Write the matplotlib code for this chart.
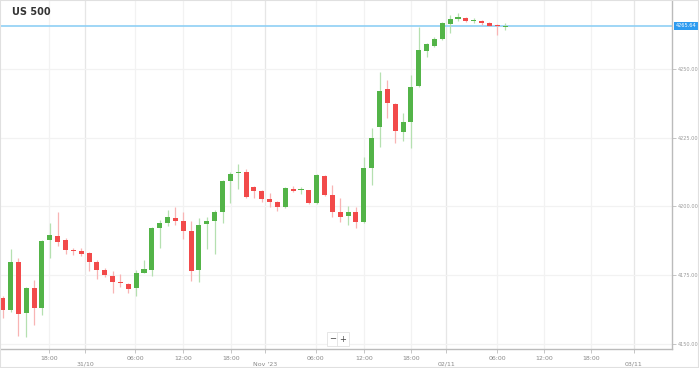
import numpy as np
import matplotlib
matplotlib.use("Agg")
import matplotlib.pyplot as plt

# hourly candles, US 500
opens = [4166.84, 4162.36, 4179.93, 4161.27, 4170.36, 4163.09, 4187.82, 4189.38, 4187.82, 4184.18,
         4183.93, 4182.98, 4179.93, 4176.91, 4174.84, 4172.44, 4171.71, 4170.25, 4175.93, 4176.91,
         4192.07, 4194.11, 4195.93, 4194.73, 4191.20, 4176.91, 4193.53, 4194.73, 4197.89, 4209.27,
         4212.07, 4212.44, 4206.98, 4205.75, 4202.73, 4201.53, 4199.93, 4206.36, 4206.00, 4206.00,
         4201.16, 4211.27, 4204.18, 4198.00, 4196.55, 4197.89, 4194.47, 4214.11, 4229.02, 4242.62,
         4237.27, 4227.20, 4230.84, 4243.82, 4256.65, 4258.47, 4260.91, 4266.36, 4268.07, 4268.65,
         4267.45, 4267.56, 4266.62, 4265.71, 4265.45]
highs = [4167.45, 4184.55, 4181.27, 4170.84, 4173.27, 4187.82, 4194.11, 4197.89, 4188.55, 4185.02,
         4185.02, 4183.45, 4180.55, 4177.53, 4176.55, 4175.45, 4172.18, 4176.91, 4180.55, 4192.55,
         4195.09, 4198.73, 4199.71, 4198.00, 4194.84, 4195.71, 4196.07, 4198.73, 4209.64, 4212.55,
         4215.45, 4213.64, 4207.45, 4206.18, 4204.80, 4202.00, 4207.09, 4207.45, 4207.20, 4206.18,
         4211.64, 4211.45, 4207.82, 4203.27, 4200.18, 4199.93, 4217.89, 4228.44, 4248.80, 4246.00,
         4237.64, 4234.11, 4247.82, 4265.38, 4259.45, 4261.75, 4266.98, 4269.64, 4270.25, 4268.73,
         4268.44, 4267.64, 4266.98, 4266.36, 4266.84]
lows = [4159.45, 4161.64, 4152.91, 4152.55, 4156.91, 4160.55, 4181.27, 4185.64, 4182.73, 4182.36,
        4182.00, 4176.65, 4173.64, 4174.36, 4168.65, 4170.62, 4168.55, 4167.45, 4175.82, 4174.73,
        4184.91, 4192.91, 4193.27, 4188.18, 4173.02, 4172.65, 4184.44, 4182.62, 4193.89, 4201.16,
        4206.36, 4203.09, 4202.98, 4201.75, 4199.93, 4198.36, 4199.35, 4205.45, 4204.55, 4200.91,
        4200.91, 4203.82, 4196.07, 4194.47, 4193.27, 4192.07, 4194.18, 4207.82, 4221.53, 4232.07,
        4222.98, 4223.82, 4221.16, 4243.45, 4254.47, 4258.18, 4260.55, 4263.20, 4267.56, 4267.27,
        4266.62, 4266.00, 4265.64, 4262.36, 4264.18]
closes = [4162.36, 4179.93, 4160.91, 4170.36, 4163.09, 4187.56, 4189.64, 4187.20, 4184.18, 4183.82,
          4182.73, 4179.93, 4176.91, 4175.09, 4172.44, 4172.07, 4170.00, 4175.71, 4177.16, 4192.07,
          4193.89, 4196.07, 4194.84, 4191.09, 4176.55, 4193.27, 4194.73, 4197.89, 4209.27, 4211.82,
          4212.44, 4203.35, 4205.64, 4202.73, 4201.75, 4199.93, 4206.62, 4205.75, 4206.25, 4201.16,
          4211.45, 4204.00, 4198.11, 4196.29, 4197.82, 4194.47, 4213.89, 4224.80, 4242.11, 4237.53,
          4227.45, 4230.62, 4243.56, 4256.91, 4258.98, 4260.80, 4266.62, 4268.07, 4269.02, 4267.45,
          4267.82, 4266.62, 4265.75, 4265.53, 4265.64]

x_ticks = [5.9, 10.5, 16.9, 23.0, 29.1, 33.4, 39.9, 46.0, 52.0, 56.5, 63.0, 69.0, 74.9, 80.4]
x_labels = ["18:00", "31/10", "06:00", "12:00", "18:00", "Nov '23", "06:00", "12:00", "18:00",
            "02/11", "06:00", "12:00", "18:00", "03/11"]
day_ticks = {"31/10", "Nov '23", "02/11", "03/11"}
y_ticks = [4150, 4175, 4200, 4225, 4250]

GREEN = "#53b448"
RED = "#f24a4a"
GREEN_W = "#b5e0b0"
RED_W = "#f8b4b4"

fig = plt.figure(figsize=(6.99, 3.68), dpi=100)
ax = fig.add_axes([0.0, 1 - 349 / 368, 672 / 699, 349 / 368])

o = np.array(opens)
h = np.array(highs)
l = np.array(lows)
c = np.array(closes)
x = np.arange(len(o))
up = c >= o

# wicks
ax.vlines(x[up], l[up], h[up], color=GREEN_W, lw=0.9, zorder=2)
ax.vlines(x[~up], l[~up], h[~up], color=RED_W, lw=0.9, zorder=2)
# bodies
body = np.maximum(np.abs(c - o), 0.35)
bottom = np.minimum(o, c)
ax.bar(x[up], body[up], bottom=bottom[up], width=0.64, color=GREEN, zorder=3, linewidth=0)
ax.bar(x[~up], body[~up], bottom=bottom[~up], width=0.64, color=RED, zorder=3, linewidth=0)

ax.set_xlim(-0.344, 85.26)
ax.set_ylim(4148.18, 4275.09)

# grid
for t, lab in zip(x_ticks, x_labels):
    col = "#e6e6e6" if lab in day_ticks else "#f2f2f2"
    ax.axvline(t, color=col, lw=0.9, zorder=0)
for yv in y_ticks:
    ax.axhline(yv, color="#f2f2f2", lw=0.9, zorder=0)

ax.set_xticks(x_ticks)
ax.set_xticklabels([("\n" + s) if s in day_ticks else s for s in x_labels])
ax.tick_params(axis="x", length=3, width=0.6, color="#bbbbbb", labelsize=4.5,
               labelcolor="#888888", pad=2)

ax.yaxis.tick_right()
ax.set_yticks(y_ticks)
ax.set_yticklabels(["%.2f" % v for v in y_ticks])
ax.tick_params(axis="y", length=3, width=0.6, color="#bbbbbb", labelsize=3.6,
               labelcolor="#999999", pad=1)

for s in ["top", "left"]:
    ax.spines[s].set_visible(False)
ax.spines["right"].set_color("#bbbbbb")
ax.spines["bottom"].set_color("#bbbbbb")
ax.spines["right"].set_linewidth(1)
ax.spines["bottom"].set_linewidth(1)

# last price line + label
last = closes[-1]
ax.axhline(last, color="#8fd0f5", lw=1.2, zorder=1)
ax.text(1.005, last, "%.2f" % last, transform=ax.get_yaxis_transform(), fontsize=3.6,
        color="white", va="center", ha="left",
        bbox=dict(boxstyle="square,pad=0.35", fc="#2d9bf0", ec="none"))

fig.text(12 / 699, 1 - 12 / 368, "US 500", fontsize=7, fontweight="bold", color="#333333",
         va="center", ha="left")

# zoom buttons
fig.text(333 / 699, 1 - 339 / 368, "\u2212", fontsize=6, color="#444444", ha="center", va="center",
         bbox=dict(boxstyle="square,pad=0.25", fc="white", ec="#e2e2e2", lw=0.6))
fig.text(343 / 699, 1 - 339 / 368, "+", fontsize=6, color="#444444", ha="center", va="center",
         bbox=dict(boxstyle="square,pad=0.25", fc="white", ec="#e2e2e2", lw=0.6))

# outer frame
fig.patches.append(plt.Rectangle((0, 0), 1, 1, transform=fig.transFigure, fill=False,
                                 ec="#e0e0e0", lw=1.5))

fig.savefig("out.png", dpi=100)
